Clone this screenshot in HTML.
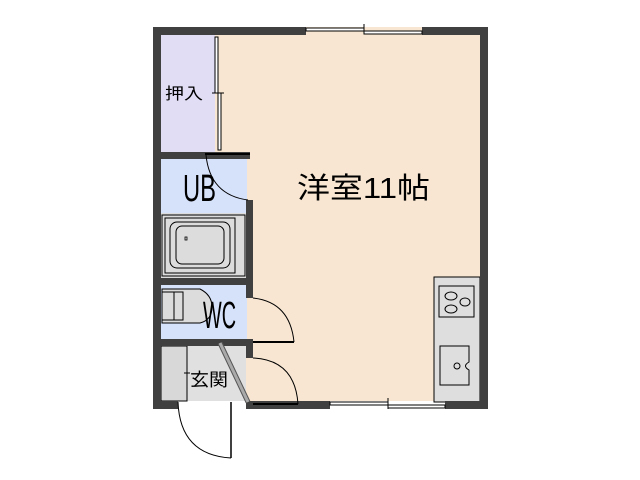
<!DOCTYPE html>
<html><head><meta charset="utf-8"><style>body{margin:0;background:#fff}svg{display:block}text{font-family:"Liberation Sans","Noto Sans CJK JP",sans-serif}</style></head><body>
<svg width="640" height="480" viewBox="0 0 640 480" xmlns="http://www.w3.org/2000/svg">
<rect x="153" y="27" width="335" height="374" fill="#f8e6d2"/>
<!-- closet -->
<rect x="161" y="35" width="54" height="117" fill="#e1ddf5"/>
<!-- UB -->
<rect x="161" y="159" width="86" height="55" fill="#d6e1fa"/>
<rect x="161" y="213" width="86" height="65" fill="#dcdcdc"/>
<rect x="162" y="215" width="83" height="61" fill="none" stroke="#000" stroke-width="1"/>
<rect x="165" y="218" width="70" height="55" fill="none" stroke="#000" stroke-width="1"/>
<rect x="170" y="222" width="60" height="46" rx="7" fill="none" stroke="#000"/>
<rect x="176" y="226" width="48" height="38" rx="6" fill="none" stroke="#000"/>
<rect x="185" y="237" width="2" height="3" fill="none" stroke="#000" stroke-width="0.8"/>
<!-- WC -->
<rect x="161" y="285" width="86" height="54" fill="#d6e1fa"/>
<path d="M162 289 H200 Q212 295 212 307 Q212 320 200 323 H162 Z" fill="#dcdcdc" stroke="#000"/>
<rect x="174" y="292" width="9" height="28" fill="none" stroke="#000"/>
<rect x="162" y="292" width="12" height="28" fill="none" stroke="#000"/>
<!-- genkan -->
<rect x="161" y="346" width="85" height="55" fill="#e0e0e0"/>
<rect x="161" y="346" width="26" height="55" fill="#d8d8d8" stroke="#000" stroke-width="1"/>
<line x1="184" y1="373" x2="190" y2="373" stroke="#000"/>
<!-- kitchen -->
<rect x="434" y="277" width="46" height="125" fill="#dedede" stroke="#000"/>
<rect x="439" y="286" width="35" height="31" fill="none" stroke="#000"/>
<ellipse cx="451" cy="296" rx="6" ry="4" fill="none" stroke="#000"/>
<ellipse cx="451" cy="309" rx="6" ry="4" fill="none" stroke="#000"/>
<ellipse cx="465" cy="302" rx="5" ry="4" fill="none" stroke="#000"/>
<path d="M440 346 H469 V362 Q462 366 469 370 V385 H440 Z" fill="none" stroke="#000"/>
<circle cx="457" cy="366" r="3" fill="none" stroke="#000"/>
<!-- outer walls -->
<g fill="#404040">
<rect x="153" y="27" width="153" height="8"/>
<rect x="422" y="27" width="66" height="8"/>
<rect x="153" y="27" width="8" height="382"/>
<rect x="480" y="27" width="8" height="382"/>
<rect x="153" y="401" width="25" height="8"/>
<rect x="246" y="401" width="84" height="8"/>
<rect x="445" y="401" width="43" height="8"/>
<rect x="161" y="152" width="89" height="7"/>
<rect x="161" y="278" width="92" height="7"/>
<rect x="161" y="339" width="92" height="7"/>
<rect x="246" y="200" width="7" height="98"/>
<rect x="246" y="346" width="7" height="12"/>
</g>
<!-- windows -->
<g fill="#fff" stroke="#000" stroke-width="1">
<rect x="306" y="28" width="58" height="3"/><rect x="364" y="31" width="58" height="3"/>
<rect x="330" y="402" width="58" height="3"/><rect x="388" y="405" width="57" height="3"/>
<rect x="215" y="37" width="3" height="56"/><rect x="218" y="93" width="3" height="57"/>
</g>
<line x1="364" y1="24" x2="364" y2="34" stroke="#000"/>
<line x1="388" y1="398" x2="388" y2="409" stroke="#000"/>
<line x1="212" y1="93" x2="224" y2="93" stroke="#000"/>
<!-- doors -->
<g fill="none" stroke="#000" stroke-width="1">
<path d="M206 155 Q210 195 248 200"/>
<line x1="205" y1="154" x2="250" y2="154" stroke-width="2"/>
<path d="M253 298 Q290 302 294 342"/><line x1="253" y1="342" x2="294" y2="342" stroke-width="2"/>
<path d="M253 358 Q295 360 298 404"/><line x1="253" y1="404" x2="298" y2="404" stroke-width="2"/>
<path d="M178 402 Q180 455 231 458"/><line x1="231" y1="402" x2="231" y2="458" stroke-width="1.5"/>
</g>
<line x1="220" y1="343" x2="248" y2="402" stroke="#555" stroke-width="5"/>
<line x1="220" y1="343" x2="248" y2="402" stroke="#aaa" stroke-width="3"/>
<!-- labels -->
<text x="165" y="99" font-size="16" textLength="38" lengthAdjust="spacingAndGlyphs">押入</text>
<text x="183" y="201" font-size="38" textLength="33" lengthAdjust="spacingAndGlyphs">UB</text>
<text x="203" y="328" font-size="38" textLength="33" lengthAdjust="spacingAndGlyphs">WC</text>
<text x="190" y="386" font-size="18" textLength="38" lengthAdjust="spacingAndGlyphs">玄関</text>
<text x="297" y="198" font-size="29" textLength="133" lengthAdjust="spacingAndGlyphs">洋室11帖</text>
</svg>
</body></html>
